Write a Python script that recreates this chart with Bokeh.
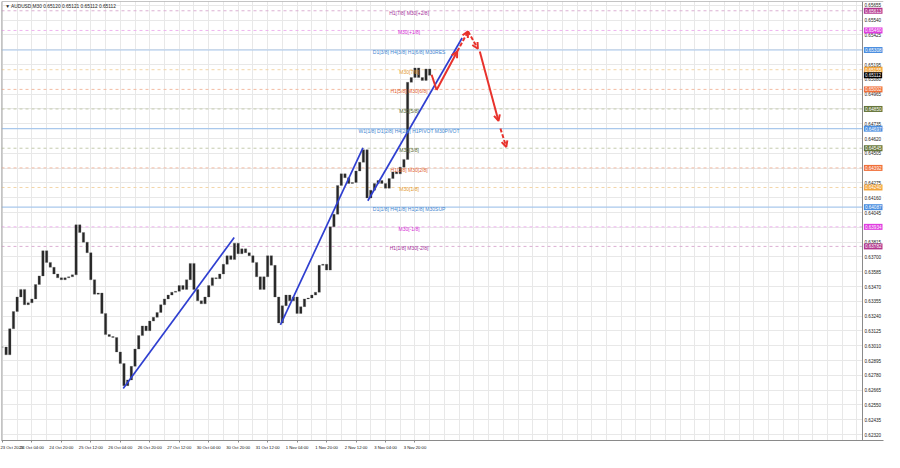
from bokeh.plotting import figure
from bokeh.models import (FixedTicker, PrintfTickFormatter, Span, Arrow, OpenHead,
                          ColumnDataSource, Range1d, BoxAnnotation)
from bokeh.core.properties import value
from bokeh.embed import file_html
from bokeh.resources import INLINE

# ---------------- data ----------------
header_text = "\u25BC AUDUSD,M30  0.65120 0.65121 0.65112 0.65112"
bars_per_sample = 4          # each sample below covers 4 M30 bars
closes = [
    0.63000, 0.62940, 0.63142, 0.63276, 0.63389, 0.63448, 0.63329, 0.63344, 0.63374, 0.63486,
    0.63553, 0.63748, 0.63658, 0.63620, 0.63568, 0.63538, 0.63523, 0.63538, 0.63546, 0.63561,
    0.63950, 0.63890, 0.63815, 0.63733, 0.63523, 0.63411, 0.63420, 0.63261, 0.63097, 0.63082,
    0.63074, 0.62962, 0.62872, 0.62700, 0.62745, 0.62850, 0.62985, 0.63089, 0.63164, 0.63127,
    0.63202, 0.63231, 0.63269, 0.63329, 0.63374, 0.63404, 0.63426, 0.63433, 0.63478, 0.63448,
    0.63523, 0.63650, 0.63448, 0.63359, 0.63336, 0.63389, 0.63478, 0.63538, 0.63531, 0.63568,
    0.63643, 0.63710, 0.63680, 0.63807, 0.63725, 0.63763, 0.63733, 0.63710, 0.63658, 0.63546,
    0.63448, 0.63546, 0.63710, 0.63635, 0.63389, 0.63187, 0.63321, 0.63404, 0.63359, 0.63389,
    0.63261, 0.63314, 0.63374, 0.63381, 0.63404, 0.63426, 0.63635, 0.63643, 0.63598, 0.63935,
    0.64032, 0.64256, 0.64346, 0.64316, 0.64271, 0.64279, 0.64368, 0.64436, 0.64533, 0.64159,
    0.64219, 0.64271, 0.64294, 0.64271, 0.64234, 0.64309, 0.64361, 0.64346, 0.64398, 0.64458,
    0.65057, 0.65094, 0.65169, 0.65094, 0.65072, 0.65161, 0.65112,
]
date_labels = ["23 Oct 2023", "24 Oct 04:00", "24 Oct 20:00", "25 Oct 12:00", "26 Oct 04:00",
               "26 Oct 20:00", "27 Oct 12:00", "30 Oct 04:00", "30 Oct 20:00", "31 Oct 12:00",
               "1 Nov 04:00", "1 Nov 20:00", "2 Nov 12:00", "3 Nov 04:00", "3 Nov 20:00"]
bars_per_date_label = 32
bars_per_grid = 16
price_ticks = [0.62320, 0.62435, 0.62550, 0.62665, 0.62780, 0.62895, 0.63010, 0.63125,
               0.63240, 0.63355, 0.63470, 0.63585, 0.63700, 0.63815, 0.63930, 0.64045,
               0.64160, 0.64275, 0.64390, 0.64505, 0.64620, 0.64735, 0.64850, 0.64965,
               0.65080, 0.65195, 0.65310, 0.65425, 0.65540, 0.65655]
level_prices = [0.65613, 0.65460, 0.65308, 0.65155, 0.65002, 0.64850, 0.64697,
                0.64545, 0.64392, 0.64240, 0.64087, 0.63934, 0.63782]
level_names = ["H1[7/8] M30[+2/8]", "M30[+1/8]", "D1[3/8] H4[3/8] H1[6/8] M30RES",
               "M30[7/8]", "H1[5/8] M30[6/8]", "M30[5/8]",
               "W1[1/8] D1[2/8] H4[2/8] H1PIVOT M30PIVOT", "M30[3/8]",
               "H1[3/8] M30[2/8]", "M30[1/8]", "D1[1/8] H4[1/8] H1[2/8] M30SUP",
               "M30[-1/8]", "H1[1/8] M30[-2/8]"]
level_groups = ["purple", "magenta", "blue", "orange", "red", "olive", "blue",
                "olive", "red", "orange", "blue", "magenta", "purple"]
level_label_bar = 441.6
current_price = 0.65112
trend_start_bar = [131.2, 301.9, 396.8]
trend_start_price = [0.62678, 0.63172, 0.64137]
trend_end_bar = [251.7, 391.5, 499.2]
trend_end_price = [0.63852, 0.64548, 0.65401]
fc_up_bar = [466.1, 471.5, 493.9, 505.6, 516.3]
fc_up_price = [0.65116, 0.64997, 0.65296, 0.65453, 0.65318]
fc_dn_bar = [518.4, 538.7, 540.8, 547.2]
fc_dn_price = [0.65296, 0.64757, 0.64698, 0.64555]

# ---------------- styles ----------------
STY = {
    "purple":  dict(box="#b4368e", text="#a3309a", line="#dbb0d3", dash="3 3"),
    "magenta": dict(box="#e03ce0", text="#d428d4", line="#efb4ef", dash="3 3"),
    "blue":    dict(box="#4c8fe0", text="#3f86d0", line="#a9c8ec", dash="solid"),
    "orange":  dict(box="#f2a43a", text="#e39a2e", line="#f3d5a8", dash="3 3"),
    "red":     dict(box="#f0703a", text="#e2602c", line="#f3bca4", dash="3 3"),
    "olive":   dict(box="#66763a", text="#55662e", line="#c4cbae", dash="3 3"),
}
FONT = "Liberation Sans"
RED = "#e8322c"
BLUE = "#2f3fd0"
AXIS_GRAY = "#8a8a8a"

# chart area ends at bar CHART_END; the price scale sits to its right inside the frame
CHART_END = 934
X_MAX = 956.8
Y_MIN, Y_MAX = 0.62274, 0.65685

# ---------------- figure ----------------
n = len(closes)
bar_x = [i * bars_per_sample for i in range(n)]
opens = [closes[0]] + closes[:-1]
tops = [max(o, c) for o, c in zip(opens, closes)]
bots = [min(o, c) for o, c in zip(opens, closes)]
src = ColumnDataSource(dict(x=bar_x, top=tops, bottom=bots))

p = figure(width=884, height=452, output_backend="svg", toolbar_location=None,
           x_range=Range1d(-1, X_MAX), y_range=Range1d(Y_MIN, Y_MAX),
           y_axis_location="right",
           min_border_left=1, min_border_top=1, min_border_right=1, min_border_bottom=11)
p.background_fill_color = "white"
p.border_fill_color = "white"
p.outline_line_color = None

# grid
p.xgrid.ticker = FixedTicker(ticks=list(range(0, CHART_END, bars_per_grid)))
p.xgrid.grid_line_color = "#e8e8e8"
p.ygrid.grid_line_color = "#e8e8e8"

# x axis
label_ticks = [i * bars_per_date_label for i in range(len(date_labels))]
p.xaxis.ticker = FixedTicker(ticks=label_ticks)
p.xaxis.major_label_overrides = {t: lab for t, lab in zip(label_ticks, date_labels)}
p.xaxis.major_label_text_align = "left"
p.xaxis.major_label_text_font_size = "4.2px"
p.xaxis.major_label_text_font = FONT
p.xaxis.major_label_text_color = "#111111"
p.xaxis.major_label_standoff = 2
p.xaxis.major_tick_out = 2
p.xaxis.major_tick_in = 0
p.xaxis.minor_tick_line_color = None
p.xaxis.axis_line_color = AXIS_GRAY
p.xaxis.major_tick_line_color = AXIS_GRAY

# y axis (labels pulled inward into the price-scale strip)
p.yaxis.ticker = FixedTicker(ticks=price_ticks)
p.yaxis.formatter = PrintfTickFormatter(format="%.5f")
p.yaxis.major_label_text_font_size = "4.6px"
p.yaxis.major_label_text_font = FONT
p.yaxis.major_label_text_color = "#222222"
p.yaxis.major_label_text_align = "left"
p.yaxis.major_label_standoff = -19
p.yaxis.major_tick_out = 0
p.yaxis.major_tick_in = 0
p.yaxis.major_tick_line_color = None
p.yaxis.minor_tick_line_color = None
p.yaxis.axis_line_color = None

# level lines
for price, grp in zip(level_prices, level_groups):
    s = STY[grp]
    p.add_layout(Span(location=price, dimension="width", line_color=s["line"],
                      line_width=1.2 if grp == "blue" else 1, line_dash=s["dash"],
                      level="underlay"))

# white price-scale strip + its border line, frame left/top border
p.add_layout(BoxAnnotation(left=CHART_END, fill_color="white", fill_alpha=1.0,
                           line_color=None, level="underlay"))
p.add_layout(Span(location=CHART_END, dimension="height", line_color=AXIS_GRAY, line_width=1))
p.add_layout(Span(location=-1, dimension="height", line_color=AXIS_GRAY, line_width=1.5))
p.add_layout(Span(location=Y_MAX, dimension="width", line_color=AXIS_GRAY, line_width=1))

# candles
p.vbar(x="x", width=2.6, top="top", bottom="bottom", source=src,
       fill_color="#262626", line_color="#5a5a5a", line_width=0.3)

# trend lines
p.segment(x0=trend_start_bar, y0=trend_start_price, x1=trend_end_bar, y1=trend_end_price,
          line_color=BLUE, line_width=1.7)

# forecast arrows
p.line(fc_up_bar[0:2], fc_up_price[0:2], line_color=RED, line_width=2)
legs = [(fc_up_bar[1], fc_up_price[1], fc_up_bar[2], fc_up_price[2], "solid"),
        (fc_up_bar[2], fc_up_price[2], fc_up_bar[3], fc_up_price[3], "4 2"),
        (fc_up_bar[3], fc_up_price[3], fc_up_bar[4], fc_up_price[4], "4 2"),
        (fc_dn_bar[0], fc_dn_price[0], fc_dn_bar[1], fc_dn_price[1], "solid"),
        (fc_dn_bar[2], fc_dn_price[2], fc_dn_bar[3], fc_dn_price[3], "4 2")]
for x0, y0, x1, y1, dash in legs:
    p.add_layout(Arrow(end=OpenHead(size=6, line_color=RED, line_width=2),
                       x_start=x0, y_start=y0, x_end=x1, y_end=y1,
                       line_color=RED, line_width=2, line_dash=dash))

# level names inside chart
lab_src = ColumnDataSource(dict(
    x=[level_label_bar] * len(level_prices), y=level_prices, t=level_names,
    c=[STY[g]["text"] for g in level_groups]))
p.text(x="x", y="y", text="t", source=lab_src, text_color="c",
       text_font=value(FONT), text_font_size="5px", text_align="center",
       text_baseline="middle", y_offset=2)

# coloured price boxes on the price scale (drawn above the axis labels)
box_prices = level_prices + [current_price]
box_src = ColumnDataSource(dict(
    x=[CHART_END + 1.5] * len(box_prices), y=box_prices,
    t=[f"{v:.5f}" for v in box_prices],
    bg=[STY[g]["box"] for g in level_groups] + ["#000000"]))
p.text(x="x", y="y", text="t", source=box_src, text_color="white",
       text_font=value(FONT), text_font_size="4.6px", text_align="left",
       text_baseline="middle", background_fill_color="bg", padding=1,
       level="overlay")

# header
p.text(x=[3], y=[Y_MAX], text=[header_text], text_color="#222222",
       text_font=value(FONT), text_font_size="4.8px", text_align="left",
       text_baseline="top", y_offset=2)

open("out.html", "w").write(file_html(p, INLINE))
